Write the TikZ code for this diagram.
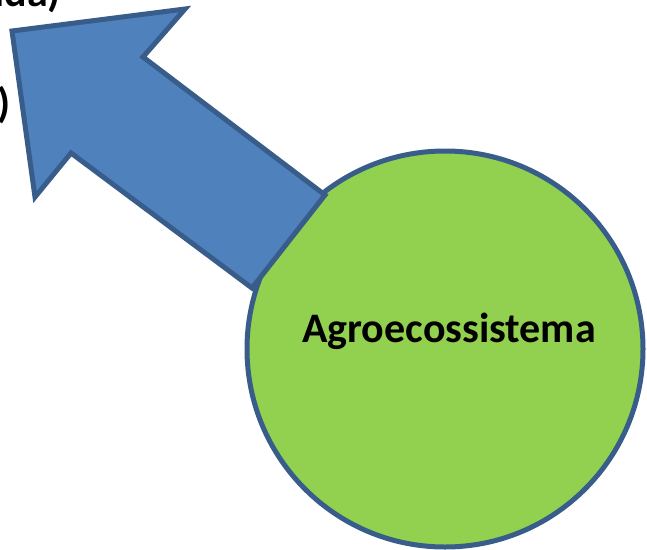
\documentclass[tikz,border=0pt]{standalone}
\usepackage{fontspec}
\setmainfont{Carlito}
\definecolor{arrowfill}{HTML}{4F81BD}
\definecolor{edgeblue}{HTML}{385D8A}
\definecolor{circfill}{HTML}{92D050}
\begin{document}
\begin{tikzpicture}[x=1pt,y=1pt,
  lbl/.style={font=\fontsize{42}{50}\selectfont\bfseries, inner sep=0pt, text=black},
  outlined/.style={draw=edgeblue, line width=5pt, line join=miter}]
\useasboundingbox (0,0) rectangle (647,-549);
\clip (0,0) rectangle (647,-549);
% partial texts cut by the border
\node[lbl, anchor=base east] (toptext) at (61,-6) {ada)};
\node[lbl, anchor=base east] (lefttext) at (11,-117) {)};
% circle
\node[outlined, fill=circfill, circle, minimum size=396pt, inner sep=0pt] (eco) at (445,-349) {};
% arrow
\coordinate (b1) at (325,-195);
\coordinate (n1) at (143,-57);
\coordinate (h1) at (185,-9);
\coordinate (tip) at (12,-31);
\coordinate (h2) at (35,-197);
\coordinate (n2) at (71,-153);
\coordinate (b2) at (252,-288);
\draw[outlined, fill=arrowfill] (b1) -- (n1) -- (h1) -- (tip) -- (h2) -- (n2) -- (b2) -- cycle;
\node[lbl, anchor=base] (ecotext) at (449,-342) {Agroecossistema};
\end{tikzpicture}
\end{document}
